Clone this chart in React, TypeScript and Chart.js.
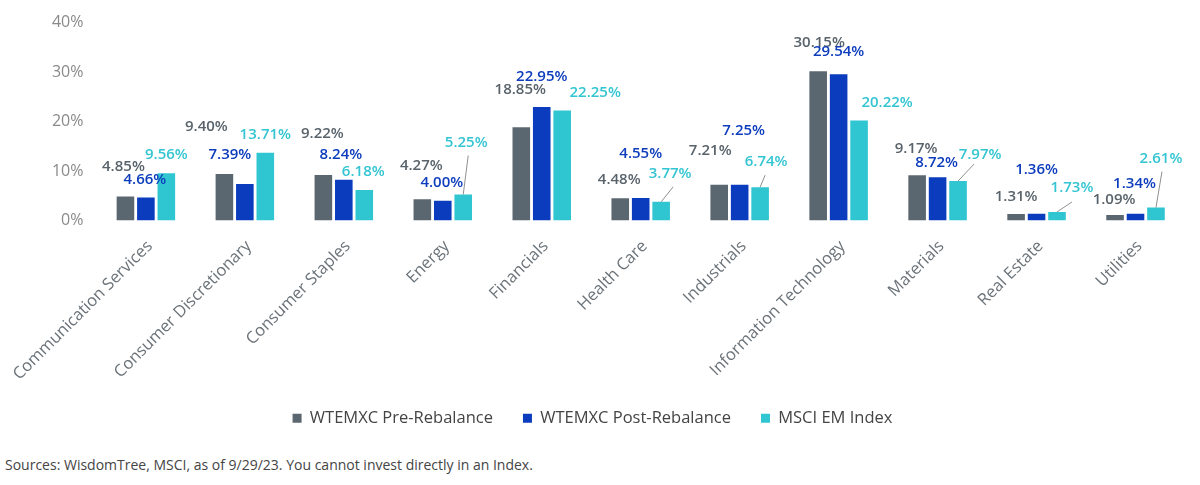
import React, { useEffect, useRef } from "react";
import { Chart, registerables } from "chart.js";

Chart.register(...registerables);

// ---------- data ----------
const categories = [
  "Communication Services",
  "Consumer Discretionary",
  "Consumer Staples",
  "Energy",
  "Financials",
  "Health Care",
  "Industrials",
  "Information Technology",
  "Materials",
  "Real Estate",
  "Utilities",
];
const seriesNames = ["WTEMXC Pre-Rebalance", "WTEMXC Post-Rebalance", "MSCI EM Index"];
const preRebalance = [4.85, 9.4, 9.22, 4.27, 18.85, 4.48, 7.21, 30.15, 9.17, 1.31, 1.09];
const postRebalance = [4.66, 7.39, 8.24, 4.0, 22.95, 4.55, 7.25, 29.54, 8.72, 1.36, 1.34];
const msciEm = [9.56, 13.71, 6.18, 5.25, 22.25, 3.77, 6.74, 20.22, 7.97, 1.73, 2.61];
const yTickValues = [0, 10, 20, 30, 40];
const sourceNote = "Sources: WisdomTree, MSCI, as of 9/29/23. You cannot invest directly in an Index.";

// ---------- styles / layout ----------
const barColors = ["#5b6770", "#0a3cbd", "#30c6d1"];
const labelColors = ["#59636b", "#0d3dbd", "#33c5d2"];

// label offsets (px) relative to the top-centre of each bar
const labelOffsets: number[][][] = [
  [[-2, -30], [-18, -47], [-1, -41], [-1, -34], [-1, -38], [-1, -19], [-9, -34], [1, -29], [-1, -26], [0, -17], [-1, -15]],
  [[-1, -18], [-15, -29], [-3, -25], [-1, -18], [0, -30], [0, -44], [4, -54], [0, -23], [-1, -15], [0, -44], [-1, -30]],
  [[0, -18], [0, -18], [-1, -18], [3, -52], [33, -18], [9, -28], [6, -25], [28, -18], [22, -26], [15, -24], [5, -49]],
];
// leader line start offsets relative to label centre (null = no leader)
const leaderStarts: (number[] | null)[][] = [
  Array(11).fill(null),
  Array(11).fill(null),
  [null, null, null, [2, 13], null, [3, 13], [-1, 13], null, [-6, 9], [0, 14], [1, 13]],
];

const valueLabelPlugin = {
  id: "valueLabels",
  afterDatasetsDraw(chart: any) {
    const ctx = chart.ctx;
    ctx.save();
    ctx.font = "600 15px 'Open Sans'";
    ctx.textAlign = "center";
    ctx.textBaseline = "middle";
    chart.data.datasets.forEach((ds: any, di: number) => {
      const meta = chart.getDatasetMeta(di);
      meta.data.forEach((bar: any, i: number) => {
        const [dx, dy] = labelOffsets[di][i];
        const x = bar.x + dx;
        const y = bar.y + dy;
        const ls = leaderStarts[di][i];
        if (ls) {
          ctx.strokeStyle = "#8f8f8f";
          ctx.lineWidth = 1;
          ctx.beginPath();
          ctx.moveTo(x + ls[0], y + ls[1]);
          ctx.lineTo(bar.x, bar.y);
          ctx.stroke();
        }
        ctx.fillStyle = labelColors[di];
        ctx.fillText(Number(ds.data[i]).toFixed(2) + "%", x, y);
      });
    });
    ctx.restore();
  },
};

export default function App() {
  const canvasRef = useRef<HTMLCanvasElement | null>(null);

  useEffect(() => {
    if (!canvasRef.current) return;
    const values = [preRebalance, postRebalance, msciEm];
    const chart = new Chart(canvasRef.current, {
      type: "bar",
      data: {
        labels: categories,
        datasets: values.map((v, i) => ({
          label: seriesNames[i],
          data: v,
          backgroundColor: barColors[i],
          borderWidth: 0,
          categoryPercentage: 0.62,
          barPercentage: 0.86,
        })),
      },
      options: {
        responsive: false,
        animation: false,
        devicePixelRatio: 1,
        layout: { padding: { top: 17, right: 15, bottom: 3.5, left: 0 } },
        plugins: {
          tooltip: { enabled: false },
          legend: {
            position: "bottom",
            labels: {
              boxWidth: 9,
              boxHeight: 9,
              padding: 30,
              color: "#444444",
              font: { family: "'Open Sans'", size: 16.5 },
            },
          },
        },
        scales: {
          x: {
            grid: { display: false },
            border: { display: false },
            ticks: {
              color: "#6b7379",
              font: { family: "'Open Sans'", size: 16.5 },
              maxRotation: 45,
              minRotation: 45,
              padding: 8,
              labelOffset: 4,
            },
            afterFit: (scale: any) => {
              scale.height = 159.5;
            },
          },
          y: {
            min: 0,
            max: 40,
            grid: { display: false, drawTicks: false },
            border: { display: false },
            afterBuildTicks: (scale: any) => {
              scale.ticks = yTickValues.map((v) => ({ value: v }));
            },
            ticks: {
              color: "#8a8a8a",
              font: { family: "'Open Sans'", size: 16 },
              padding: 13,
              callback: (v: any) => v + "%",
            },
            afterFit: (scale: any) => {
              scale.width = 90;
            },
          },
        },
      },
      plugins: [valueLabelPlugin],
    });
    return () => chart.destroy();
  }, []);

  return (
    <div
      style={{
        position: "fixed",
        left: 0,
        top: 0,
        width: 1200,
        height: 485,
        background: "#ffffff",
        fontFamily: "'Open Sans', sans-serif",
      }}
    >
      <canvas ref={canvasRef} width={1200} height={440} style={{ display: "block" }} />
      <div
        style={{
          position: "absolute",
          left: 5,
          top: 455,
          fontSize: 14,
          color: "#444444",
          whiteSpace: "nowrap",
        }}
      >
        {sourceNote}
      </div>
    </div>
  );
}
